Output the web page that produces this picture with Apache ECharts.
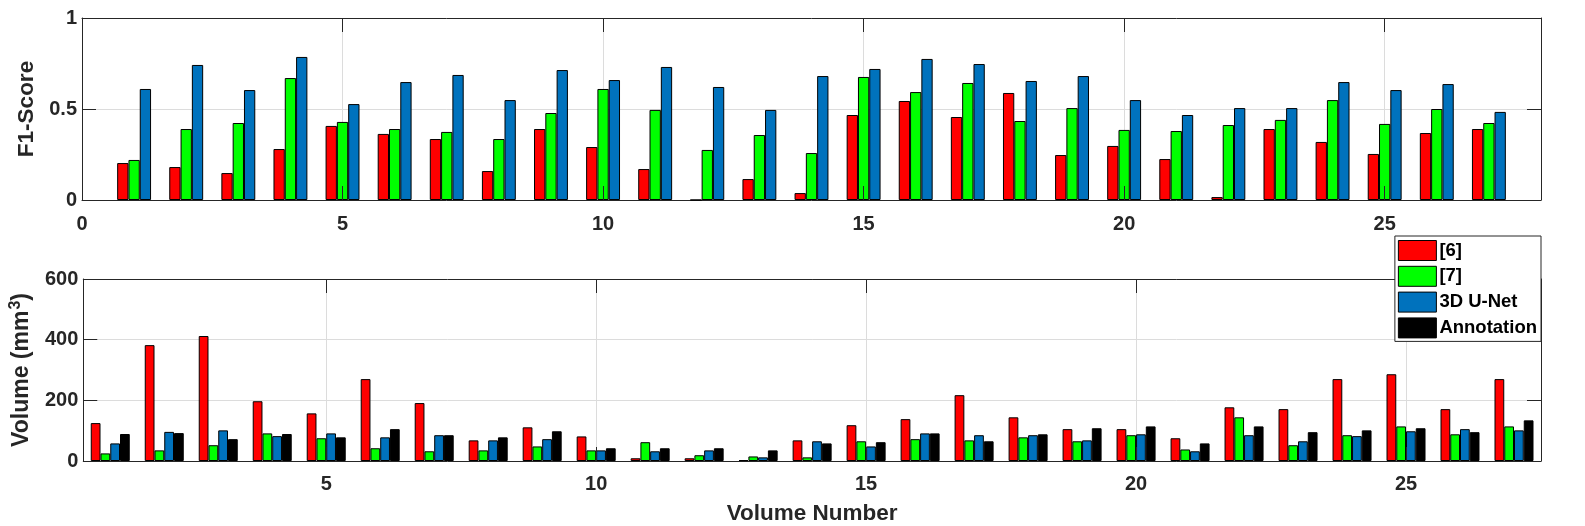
<!DOCTYPE html>
<html><head><meta charset="utf-8">
<script src="https://cdn.jsdelivr.net/npm/echarts@6/dist/echarts.min.js"></script>
<style>html,body{margin:0;padding:0;background:#fff}#c{width:1585px;height:526px}</style>
</head><body><div id="c"></div>
<script>
// ---- data ----
const volumeNumbers = [1,2,3,4,5,6,7,8,9,10,11,12,13,14,15,16,17,18,19,20,21,22,23,24,25,26,27];
const seriesNames = ['[6]', '[7]', '3D U-Net', 'Annotation'];
const f1Ref6 = [0.203,0.181,0.148,0.280,0.407,0.363,0.335,0.159,0.390,0.291,0.170,0,0.115,0.038,0.467,0.544,0.456,0.588,0.247,0.297,0.225,0.016,0.390,0.319,0.253,0.368,0.390];
const f1Ref7 = [0.220,0.390,0.423,0.670,0.429,0.390,0.374,0.335,0.478,0.610,0.495,0.275,0.357,0.258,0.676,0.593,0.643,0.434,0.505,0.385,0.379,0.412,0.440,0.549,0.418,0.500,0.423];
const f1Unet = [0.610,0.742,0.604,0.786,0.527,0.648,0.687,0.549,0.714,0.659,0.731,0.621,0.495,0.681,0.720,0.775,0.747,0.654,0.681,0.549,0.467,0.505,0.505,0.648,0.604,0.637,0.484];
const volRef6 = [125,382,412,197,157,270,191,68,111,81,9,9,3,68,118,138,217,144,105,105,75,177,171,270,286,171,270];
const volRef7 = [25,35,52,91,75,42,32,35,48,35,62,19,15,12,65,72,68,78,65,85,38,144,52,85,114,88,114];
const volUnet = [58,96,101,82,91,78,85,68,72,35,32,35,12,65,48,91,85,85,68,88,32,85,65,82,98,105,101];
const volAnnotation = [89,92,72,89,78,105,85,78,98,42,42,42,35,58,62,91,65,88,108,114,58,114,95,101,108,95,134];
const f1YTicks = {min: 0, max: 1, interval: 0.5};
const volYTicks = {min: 0, max: 600, interval: 200};
const colors = ['#FF0000', '#00FF00', '#0072BD', '#000000'];

const FONT = '"Liberation Sans", Arial, Helvetica, sans-serif';
const TXT = '#262626';
const chart = echarts.init(document.getElementById('c'));

const pairs = arr => volumeNumbers.map((v, i) => [v, arr[i]]);
function barSeries(name, arr, idx, gridIdx, width) {
  return {
    name, type: 'bar', xAxisIndex: gridIdx * 3, yAxisIndex: gridIdx * 2,
    data: pairs(arr), barWidth: width, barGap: '0%',
    itemStyle: {color: colors[idx], borderColor: '#000', borderWidth: 1},
    emphasis: {disabled: true}, animation: false
  };
}
const lineOn = {show: true, onZero: false, lineStyle: {color: TXT, width: 1}};
const lineOff = {show: false, onZero: false};
function xAxes(grid, min, max, interval) {
  const base = {type: 'value', gridIndex: grid, min, max};
  if (interval) base.interval = interval;
  return [
    Object.assign({}, base, {
      position: 'bottom',
      axisLine: lineOn,
      axisTick: {show: false},
      axisLabel: {show: true, fontSize: 20, fontWeight: 'bold', color: TXT, fontFamily: FONT, margin: 14,
                  showMinLabel: interval ? true : false, showMaxLabel: false},
      splitLine: {show: true, lineStyle: {color: '#dcdcdc', width: 1}}
    }),
    Object.assign({}, base, {
      position: 'bottom', z: 5,
      axisLine: lineOff, axisLabel: {show: false}, splitLine: {show: false},
      axisTick: {show: true, inside: true, length: 14, lineStyle: {color: TXT, width: 1}}
    }),
    Object.assign({}, base, {
      position: 'top', z: 5,
      axisLine: lineOn, axisLabel: {show: false}, splitLine: {show: false},
      axisTick: {show: true, inside: true, length: 14, lineStyle: {color: TXT, width: 1}}
    })
  ];
}
function yAxes(grid, t, name, nameGap, rich) {
  return [
    {type: 'value', gridIndex: grid, position: 'left', min: t.min, max: t.max, interval: t.interval,
     axisLine: lineOn,
     axisTick: {show: true, inside: true, length: 14, lineStyle: {color: TXT, width: 1}},
     axisLabel: {fontSize: 20, fontWeight: 'bold', color: TXT, fontFamily: FONT, margin: 5},
     splitLine: {show: true, lineStyle: {color: '#dcdcdc', width: 1}},
     name, nameLocation: 'middle', nameGap, nameRotate: 90,
     nameTextStyle: Object.assign({fontSize: 22.5, fontWeight: 'bold', color: TXT, fontFamily: FONT}, rich ? {rich} : {})},
    {type: 'value', gridIndex: grid, position: 'right', min: t.min, max: t.max, interval: t.interval,
     axisLine: lineOn,
     axisTick: {show: true, inside: true, length: 14, lineStyle: {color: TXT, width: 1}},
     axisLabel: {show: false}, splitLine: {show: false}}
  ];
}

const xa = xAxes(0, 0, 28, 5).concat(xAxes(1, 0.5, 27.5, null));
xa[3].axisLabel = Object.assign({}, xa[3].axisLabel, {margin: 13.5});
xa[3].name = 'Volume Number';
xa[3].nameLocation = 'middle';
xa[3].nameGap = 41;
xa[3].nameTextStyle = {fontSize: 22.5, fontWeight: 'bold', color: TXT, fontFamily: FONT};

const supRich = {
  a: {fontSize: 23, fontWeight: 'bold', color: TXT, fontFamily: FONT, lineHeight: 28},
  s: {fontSize: 16, fontWeight: 'bold', color: TXT, fontFamily: FONT, lineHeight: 28, verticalAlign: 'top', padding: [0, 0, 10, 1]}
};

const option = {
  backgroundColor: '#fff',
  animation: false,
  textStyle: {fontFamily: FONT},
  grid: [
    {left: 82, top: 18, width: 1459, height: 182},
    {left: 82, top: 279, width: 1459, height: 182}
  ],
  xAxis: xa,
  yAxis: yAxes(0, f1YTicks, 'F1-Score', 44).concat(
         yAxes(1, volYTicks, '{a|Volume (mm}{s|3}{a|)}', 44, supRich)),
  legend: {
    data: seriesNames, orient: 'vertical', right: 44, top: 236, z: 10,
    itemWidth: 38, itemHeight: 20, itemGap: 4.8, padding: [4, 4, 3, 3],
    borderColor: TXT, borderWidth: 1, backgroundColor: '#fff',
    icon: 'rect',
    itemStyle: {borderColor: '#000', borderWidth: 1},
    textStyle: {fontSize: 18.5, lineHeight: 20, fontWeight: 'bold', color: '#000', fontFamily: FONT, padding: [0, 0, 0, -2]},
    selectedMode: false
  },
  series: [
    barSeries(seriesNames[0], f1Ref6, 0, 0, 11.3),
    barSeries(seriesNames[1], f1Ref7, 1, 0, 11.3),
    barSeries(seriesNames[2], f1Unet, 2, 0, 11.3),
    barSeries(seriesNames[0], volRef6, 0, 1, 9.75),
    barSeries(seriesNames[1], volRef7, 1, 1, 9.75),
    barSeries(seriesNames[2], volUnet, 2, 1, 9.75),
    barSeries(seriesNames[3], volAnnotation, 3, 1, 9.75)
  ]
};
chart.setOption(option);
</script></body></html>
